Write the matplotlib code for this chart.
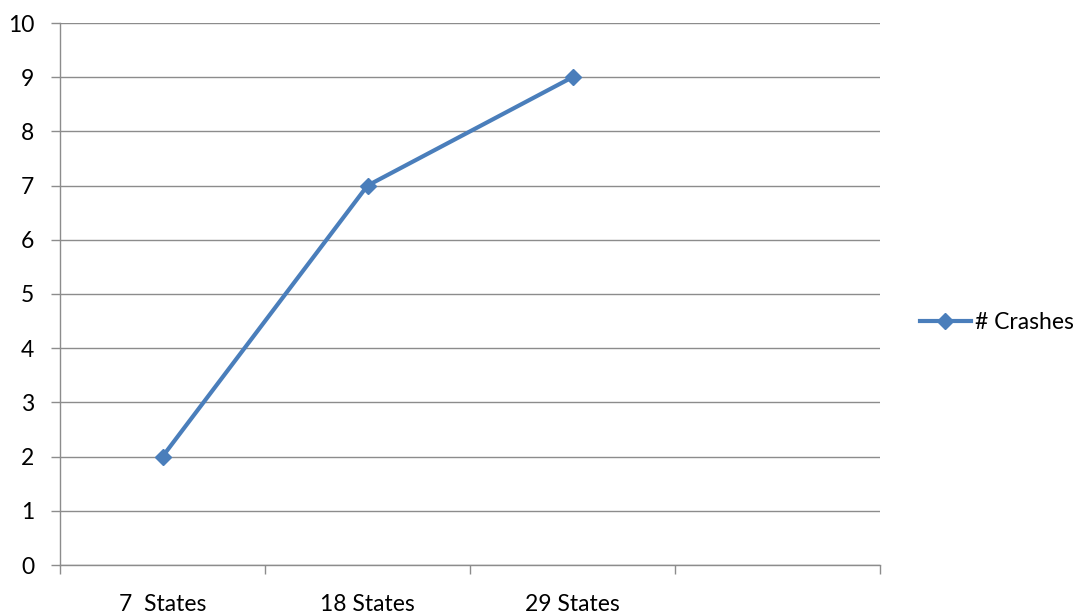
import matplotlib.pyplot as plt
from matplotlib.ticker import FixedLocator, NullFormatter

plt.rcParams['font.family'] = ['Lato', 'DejaVu Sans']

categories = ['7  States', '18 States', '29 States', '']
crashes = [2, 7, 9]
y_ticks = list(range(0, 11))

blue = '#4a7ebb'
grid_gray = '#8c8c8c'

fig = plt.figure(figsize=(10.78, 6.16), dpi=100)
ax = fig.add_axes([60 / 1078, 51 / 616, 820 / 1078, 542 / 616])

x = list(range(len(crashes)))
ax.plot(x, crashes, color=blue, linewidth=3, marker='D', markersize=8.5,
        markerfacecolor=blue, markeredgecolor=blue, label='# Crashes', zorder=3)

ax.set_xlim(-0.5, len(categories) - 0.5)
ax.set_ylim(0, 10)
ax.set_yticks(y_ticks)
ax.yaxis.grid(True, color=grid_gray, linewidth=1)
ax.set_axisbelow(True)

# category boundaries carry the tick marks, labels sit at category centres
ax.xaxis.set_major_locator(FixedLocator([i - 0.5 for i in range(len(categories) + 1)]))
ax.xaxis.set_major_formatter(NullFormatter())
ax.xaxis.set_minor_locator(FixedLocator(list(range(len(categories)))))
ax.set_xticklabels(categories, minor=True)
ax.tick_params(axis='x', which='major', length=6.5, color=grid_gray, width=1)
ax.tick_params(axis='x', which='minor', length=0, pad=21, labelsize=16.5)
ax.tick_params(axis='y', length=6.5, color=grid_gray, width=1, labelsize=16.5, pad=12)

for side in ['top', 'right']:
    ax.spines[side].set_visible(False)
for side in ['left', 'bottom']:
    ax.spines[side].set_color(grid_gray)
    ax.spines[side].set_linewidth(1)

ax.legend(loc='center left', bbox_to_anchor=(1.049, 0.448), frameon=False,
          fontsize=16.5, handlelength=2.2, handletextpad=0.2, borderaxespad=0,
          borderpad=0)

fig.savefig('out.png', dpi=100)
